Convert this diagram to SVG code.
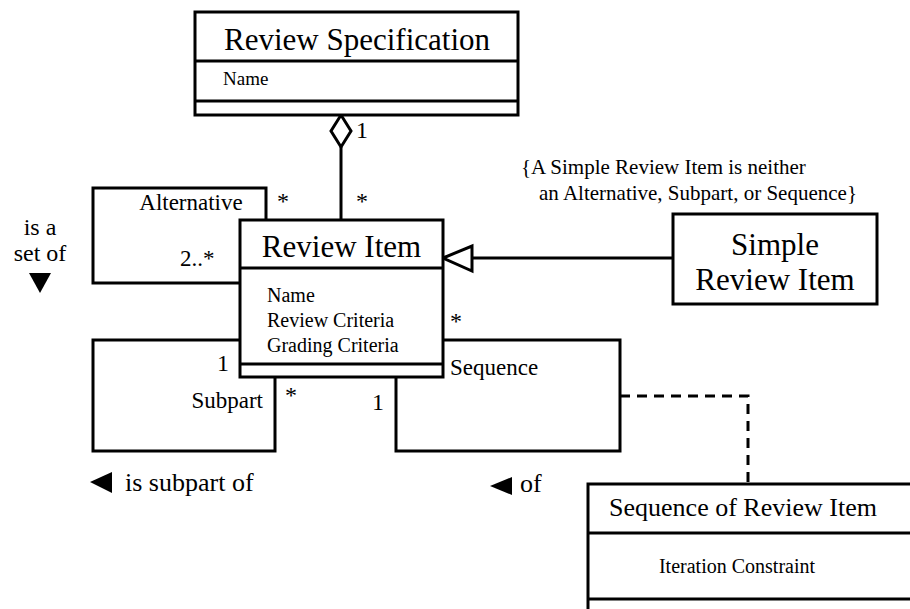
<svg xmlns="http://www.w3.org/2000/svg" width="910" height="609" viewBox="0 0 910 609">
  <style>
    .box { fill: #fff; stroke: #000; stroke-width: 3; }
    .line { fill: none; stroke: #000; stroke-width: 3; }
    .dash { fill: none; stroke: #000; stroke-width: 3; stroke-dasharray: 10 7; }
    text { font-family: "Liberation Serif", "Times New Roman", serif; fill: #000; }
    .title { font-size: 31px; text-anchor: middle; }
    .attr { font-size: 20px; }
    .lbl { font-size: 23px; }
    .mult { font-size: 24px; }
    .dir { font-size: 26px; }
    .note { font-size: 21px; }
  </style>
  <rect width="910" height="609" fill="#fff"/>

  <!-- connectors -->
  <g id="connectors">
    <!-- Alternative self-association -->
    <polyline class="line" points="240,283 93,283 93,188 266,188 266,220"/>
    <!-- Subpart self-association -->
    <polyline class="line" points="240,340 93,340 93,451 275,451 275,377"/>
    <!-- Sequence self-association -->
    <polyline class="line" points="443,340 620,340 620,451 396,451 396,377"/>
    <!-- association class link -->
    <polyline class="dash" points="620,396 748,396 748,484"/>
    <!-- aggregation -->
    <line class="line" x1="341" y1="147" x2="341" y2="220"/>
    <polygon class="box" points="341,115 351,131 341,147 331,131"/>
    <!-- generalization -->
    <line class="line" x1="673" y1="258" x2="472" y2="258"/>
    <polygon class="box" points="443,258 472,246 472,271"/>

    <!-- role names and multiplicities -->
    <text class="mult" x="356" y="138">1</text>
    <text class="mult" x="277" y="209">*</text>
    <text class="mult" x="356" y="209">*</text>
    <text class="lbl" x="191" y="210" text-anchor="middle">Alternative</text>
    <text class="lbl" x="180" y="266">2..*</text>
    <text class="mult" x="217" y="371">1</text>
    <text class="lbl" x="263" y="408" text-anchor="end">Subpart</text>
    <text class="mult" x="285" y="403">*</text>
    <text class="mult" x="372" y="410">1</text>
    <text class="mult" x="450" y="329">*</text>
    <text class="lbl" x="450" y="375">Sequence</text>

    <!-- association names -->
    <text x="40" y="235" font-size="24" text-anchor="middle">is a</text>
    <text x="40" y="261" font-size="24" text-anchor="middle">set of</text>
    <polygon points="29,273 51,273 40,293" fill="#000"/>
    <polygon points="90,482 112,472 112,493" fill="#000"/>
    <text class="dir" x="125" y="491">is subpart of</text>
    <polygon points="490,486 512,477 512,495" fill="#000"/>
    <text class="dir" x="520" y="492">of</text>

    <!-- constraint -->
    <text class="note" x="521" y="174">{A Simple Review Item is neither</text>
    <text class="note" x="539" y="200">an Alternative, Subpart, or Sequence}</text>
  </g>

  <g id="review-specification">
    <rect class="box" x="195" y="12" width="323" height="103"/>
    <line class="line" x1="195" y1="61" x2="518" y2="61"/>
    <line class="line" x1="195" y1="101" x2="518" y2="101"/>
    <text class="title" x="357" y="50">Review Specification</text>
    <text x="223" y="85" font-size="19">Name</text>
  </g>

  <g id="review-item">
    <rect class="box" x="240" y="220" width="203" height="157"/>
    <line class="line" x1="240" y1="268" x2="443" y2="268"/>
    <line class="line" x1="240" y1="364" x2="443" y2="364"/>
    <text class="title" x="341.5" y="257">Review Item</text>
    <text class="attr" x="267" y="302">Name</text>
    <text class="attr" x="267" y="327">Review Criteria</text>
    <text class="attr" x="267" y="352">Grading Criteria</text>
  </g>

  <g id="simple-review-item">
    <rect class="box" x="673" y="214" width="204" height="90"/>
    <text class="title" x="775" y="255">Simple</text>
    <text class="title" x="775" y="290">Review Item</text>
  </g>

  <g id="sequence-of-review-item">
    <rect class="box" x="588" y="484" width="340" height="140"/>
    <line class="line" x1="588" y1="533" x2="928" y2="533"/>
    <line class="line" x1="588" y1="599" x2="928" y2="599"/>
    <text x="743" y="516" font-size="26" text-anchor="middle">Sequence of Review Item</text>
    <text class="attr" x="737" y="573" text-anchor="middle">Iteration Constraint</text>
  </g>
</svg>
